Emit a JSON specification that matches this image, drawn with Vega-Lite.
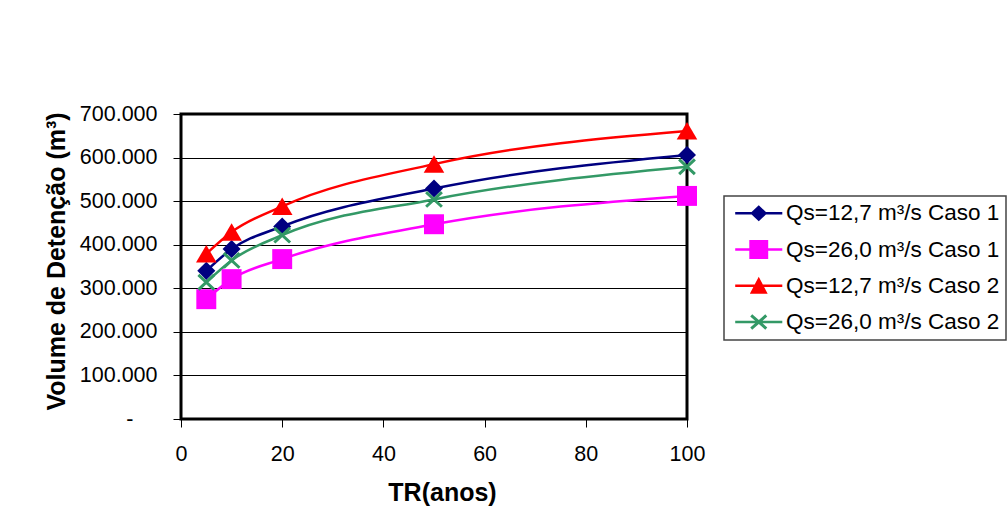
{
  "$schema": "https://vega.github.io/schema/vega-lite/v6.json",
  "width": 506,
  "height": 305,
  "autosize": {"type": "none"},
  "padding": {"left": 181, "top": 114, "right": 320, "bottom": 107},
  "background": "white",
  "config": {
    "font": "Liberation Sans",
    "view": {"stroke": "#000", "strokeWidth": 3},
    "legend": {"strokeWidth": 1.5}
  },
  "data": {
    "values": [
      {"tr": 5, "serie": "Qs=12,7 m³/s Caso 1", "vol": 340000},
      {"tr": 10, "serie": "Qs=12,7 m³/s Caso 1", "vol": 390000},
      {"tr": 20, "serie": "Qs=12,7 m³/s Caso 1", "vol": 442000},
      {"tr": 50, "serie": "Qs=12,7 m³/s Caso 1", "vol": 529000},
      {"tr": 100, "serie": "Qs=12,7 m³/s Caso 1", "vol": 606000},
      {"tr": 5, "serie": "Qs=26,0 m³/s Caso 1", "vol": 275000},
      {"tr": 10, "serie": "Qs=26,0 m³/s Caso 1", "vol": 321000},
      {"tr": 20, "serie": "Qs=26,0 m³/s Caso 1", "vol": 367000},
      {"tr": 50, "serie": "Qs=26,0 m³/s Caso 1", "vol": 447000},
      {"tr": 100, "serie": "Qs=26,0 m³/s Caso 1", "vol": 512000},
      {"tr": 5, "serie": "Qs=12,7 m³/s Caso 2", "vol": 379000},
      {"tr": 10, "serie": "Qs=12,7 m³/s Caso 2", "vol": 429000},
      {"tr": 20, "serie": "Qs=12,7 m³/s Caso 2", "vol": 488000},
      {"tr": 50, "serie": "Qs=12,7 m³/s Caso 2", "vol": 585000},
      {"tr": 100, "serie": "Qs=12,7 m³/s Caso 2", "vol": 661000},
      {"tr": 5, "serie": "Qs=26,0 m³/s Caso 2", "vol": 314000},
      {"tr": 10, "serie": "Qs=26,0 m³/s Caso 2", "vol": 364000},
      {"tr": 20, "serie": "Qs=26,0 m³/s Caso 2", "vol": 422000},
      {"tr": 50, "serie": "Qs=26,0 m³/s Caso 2", "vol": 504000},
      {"tr": 100, "serie": "Qs=26,0 m³/s Caso 2", "vol": 579000}
    ]
  },
  "encoding": {
    "x": {
      "field": "tr",
      "type": "quantitative",
      "scale": {"domain": [0, 100], "nice": false},
      "axis": {
        "values": [0, 20, 40, 60, 80, 100],
        "grid": false,
        "domain": false,
        "tickSize": 8,
        "tickColor": "#000",
        "tickWidth": 1,
        "labelFont": "Liberation Sans",
        "labelFontSize": 21.5,
        "labelColor": "#000",
        "labelPadding": 16,
        "labelFlush": false,
        "title": "TR(anos)",
        "titleFont": "Liberation Sans",
        "titleFontSize": 25,
        "titleFontWeight": "bold",
        "titleColor": "#000",
        "titleX": 261,
        "titleY": 81,
        "titleAlign": "center",
        "titleBaseline": "alphabetic"
      }
    },
    "y": {
      "field": "vol",
      "type": "quantitative",
      "scale": {"domain": [0, 700000], "nice": false},
      "axis": {
        "values": [0, 100000, 200000, 300000, 400000, 500000, 600000, 700000],
        "grid": true,
        "gridColor": "#000",
        "gridWidth": 1,
        "gridOpacity": 1,
        "domain": false,
        "tickSize": 8,
        "tickColor": "#000",
        "tickWidth": 1,
        "labelFont": "Liberation Sans",
        "labelFontSize": 21.5,
        "labelColor": "#000",
        "labelPadding": {"condition": {"test": "datum.value === 0", "value": 40}, "value": 16},
        "labelFlush": false,
        "labelExpr": "datum.value === 0 ? '-' : format(datum.value / 1000, 'd') + '.000'",
        "title": "Volume de Detenção (m³)",
        "titleFont": "Liberation Sans",
        "titleFontSize": 25,
        "titleFontWeight": "bold",
        "titleColor": "#000",
        "titleAngle": 270,
        "titleX": -116.5,
        "titleY": 147,
        "titleAlign": "center",
        "titleBaseline": "alphabetic"
      }
    }
  },
  "layer": [
    {
      "transform": [{"filter": "false"}],
      "mark": {"type": "point", "filled": true, "opacity": 1, "size": 484},
      "encoding": {
        "shape": {
          "field": "serie",
          "type": "nominal",
          "scale": {
            "domain": ["Qs=12,7 m³/s Caso 1", "Qs=26,0 m³/s Caso 1", "Qs=12,7 m³/s Caso 2", "Qs=26,0 m³/s Caso 2"],
            "range": [
              "M-2.14,-0.12H2.14V0.12H-2.14Z M0,-0.73L0.77,0L0,0.73L-0.77,0Z",
              "M-2.14,-0.12H2.14V0.12H-2.14Z M-0.86,-0.86H0.86V0.86H-0.86Z",
              "M-2.14,-0.12H2.14V0.12H-2.14Z M0,-0.81L0.81,0.73L-0.81,0.73Z",
              "M-2.14,-0.12H2.14V0.12H-2.14Z M-0.594,-0.702L0.774,0.496L0.594,0.702L-0.774,-0.496Z M-0.774,0.496L0.594,-0.702L0.774,-0.496L-0.594,0.702Z"
            ]
          },
          "legend": {
            "title": null,
            "orient": "none",
            "legendX": 543,
            "legendY": 82,
            "labelFont": "Liberation Sans",
            "labelFontSize": 22.5,
            "labelColor": "#000",
            "labelLimit": 500,
            "labelOffset": 16,
            "symbolOffset": 17.5,
            "symbolSize": 484,
            "symbolStrokeWidth": 0,
            "padding": 6,
            "rowPadding": 13.25,
            "strokeColor": "#444",
            "fillColor": "white"
          }
        },
        "fill": {
          "field": "serie",
          "type": "nominal",
          "scale": {
            "domain": ["Qs=12,7 m³/s Caso 1", "Qs=26,0 m³/s Caso 1", "Qs=12,7 m³/s Caso 2", "Qs=26,0 m³/s Caso 2"],
            "range": ["#000080", "#FF00FF", "#FF0000", "#339966"]
          },
          "legend": {
            "title": null,
            "orient": "none",
            "legendX": 543,
            "legendY": 82,
            "labelFont": "Liberation Sans",
            "labelFontSize": 22.5,
            "labelColor": "#000",
            "labelLimit": 500,
            "labelOffset": 16,
            "symbolOffset": 17.5,
            "symbolSize": 484,
            "symbolStrokeWidth": 0,
            "padding": 6,
            "rowPadding": 13.25,
            "strokeColor": "#444",
            "fillColor": "white"
          }
        }
      }
    },
    {
      "mark": {"type": "line", "interpolate": "monotone", "strokeWidth": 2.5},
      "encoding": {
        "color": {
          "field": "serie",
          "type": "nominal",
          "scale": {
            "domain": ["Qs=12,7 m³/s Caso 1", "Qs=26,0 m³/s Caso 1", "Qs=12,7 m³/s Caso 2", "Qs=26,0 m³/s Caso 2"],
            "range": ["#000080", "#FF00FF", "#FF0000", "#339966"]
          },
          "legend": null
        }
      }
    },
    {
      "transform": [{"filter": {"field": "serie", "equal": "Qs=12,7 m³/s Caso 1"}}],
      "mark": {"type": "point", "shape": "M0,-0.86L0.86,0L0,0.86L-0.86,0Z", "size": 441, "filled": true, "opacity": 1},
      "encoding": {
        "color": {
          "field": "serie",
          "type": "nominal",
          "scale": {
            "domain": ["Qs=12,7 m³/s Caso 1", "Qs=26,0 m³/s Caso 1", "Qs=12,7 m³/s Caso 2", "Qs=26,0 m³/s Caso 2"],
            "range": ["#000080", "#FF00FF", "#FF0000", "#339966"]
          },
          "legend": null
        }
      }
    },
    {
      "transform": [{"filter": {"field": "serie", "equal": "Qs=26,0 m³/s Caso 1"}}],
      "mark": {"type": "point", "shape": "M-0.95,-0.95H0.95V0.95H-0.95Z", "size": 441, "filled": true, "opacity": 1},
      "encoding": {
        "color": {
          "field": "serie",
          "type": "nominal",
          "scale": {
            "domain": ["Qs=12,7 m³/s Caso 1", "Qs=26,0 m³/s Caso 1", "Qs=12,7 m³/s Caso 2", "Qs=26,0 m³/s Caso 2"],
            "range": ["#000080", "#FF00FF", "#FF0000", "#339966"]
          },
          "legend": null
        }
      }
    },
    {
      "transform": [{"filter": {"field": "serie", "equal": "Qs=12,7 m³/s Caso 2"}}],
      "mark": {"type": "point", "shape": "M0,-0.85L0.98,0.82L-0.98,0.82Z", "size": 441, "filled": true, "opacity": 1},
      "encoding": {
        "color": {
          "field": "serie",
          "type": "nominal",
          "scale": {
            "domain": ["Qs=12,7 m³/s Caso 1", "Qs=26,0 m³/s Caso 1", "Qs=12,7 m³/s Caso 2", "Qs=26,0 m³/s Caso 2"],
            "range": ["#000080", "#FF00FF", "#FF0000", "#339966"]
          },
          "legend": null
        }
      }
    },
    {
      "transform": [{"filter": {"field": "serie", "equal": "Qs=26,0 m³/s Caso 2"}}],
      "mark": {"type": "point", "shape": "M-0.75,-0.7L0.75,0.7M-0.75,0.7L0.75,-0.7", "size": 441, "filled": false, "opacity": 1, "strokeWidth": 3},
      "encoding": {
        "color": {
          "field": "serie",
          "type": "nominal",
          "scale": {
            "domain": ["Qs=12,7 m³/s Caso 1", "Qs=26,0 m³/s Caso 1", "Qs=12,7 m³/s Caso 2", "Qs=26,0 m³/s Caso 2"],
            "range": ["#000080", "#FF00FF", "#FF0000", "#339966"]
          },
          "legend": null
        }
      }
    }
  ]
}
